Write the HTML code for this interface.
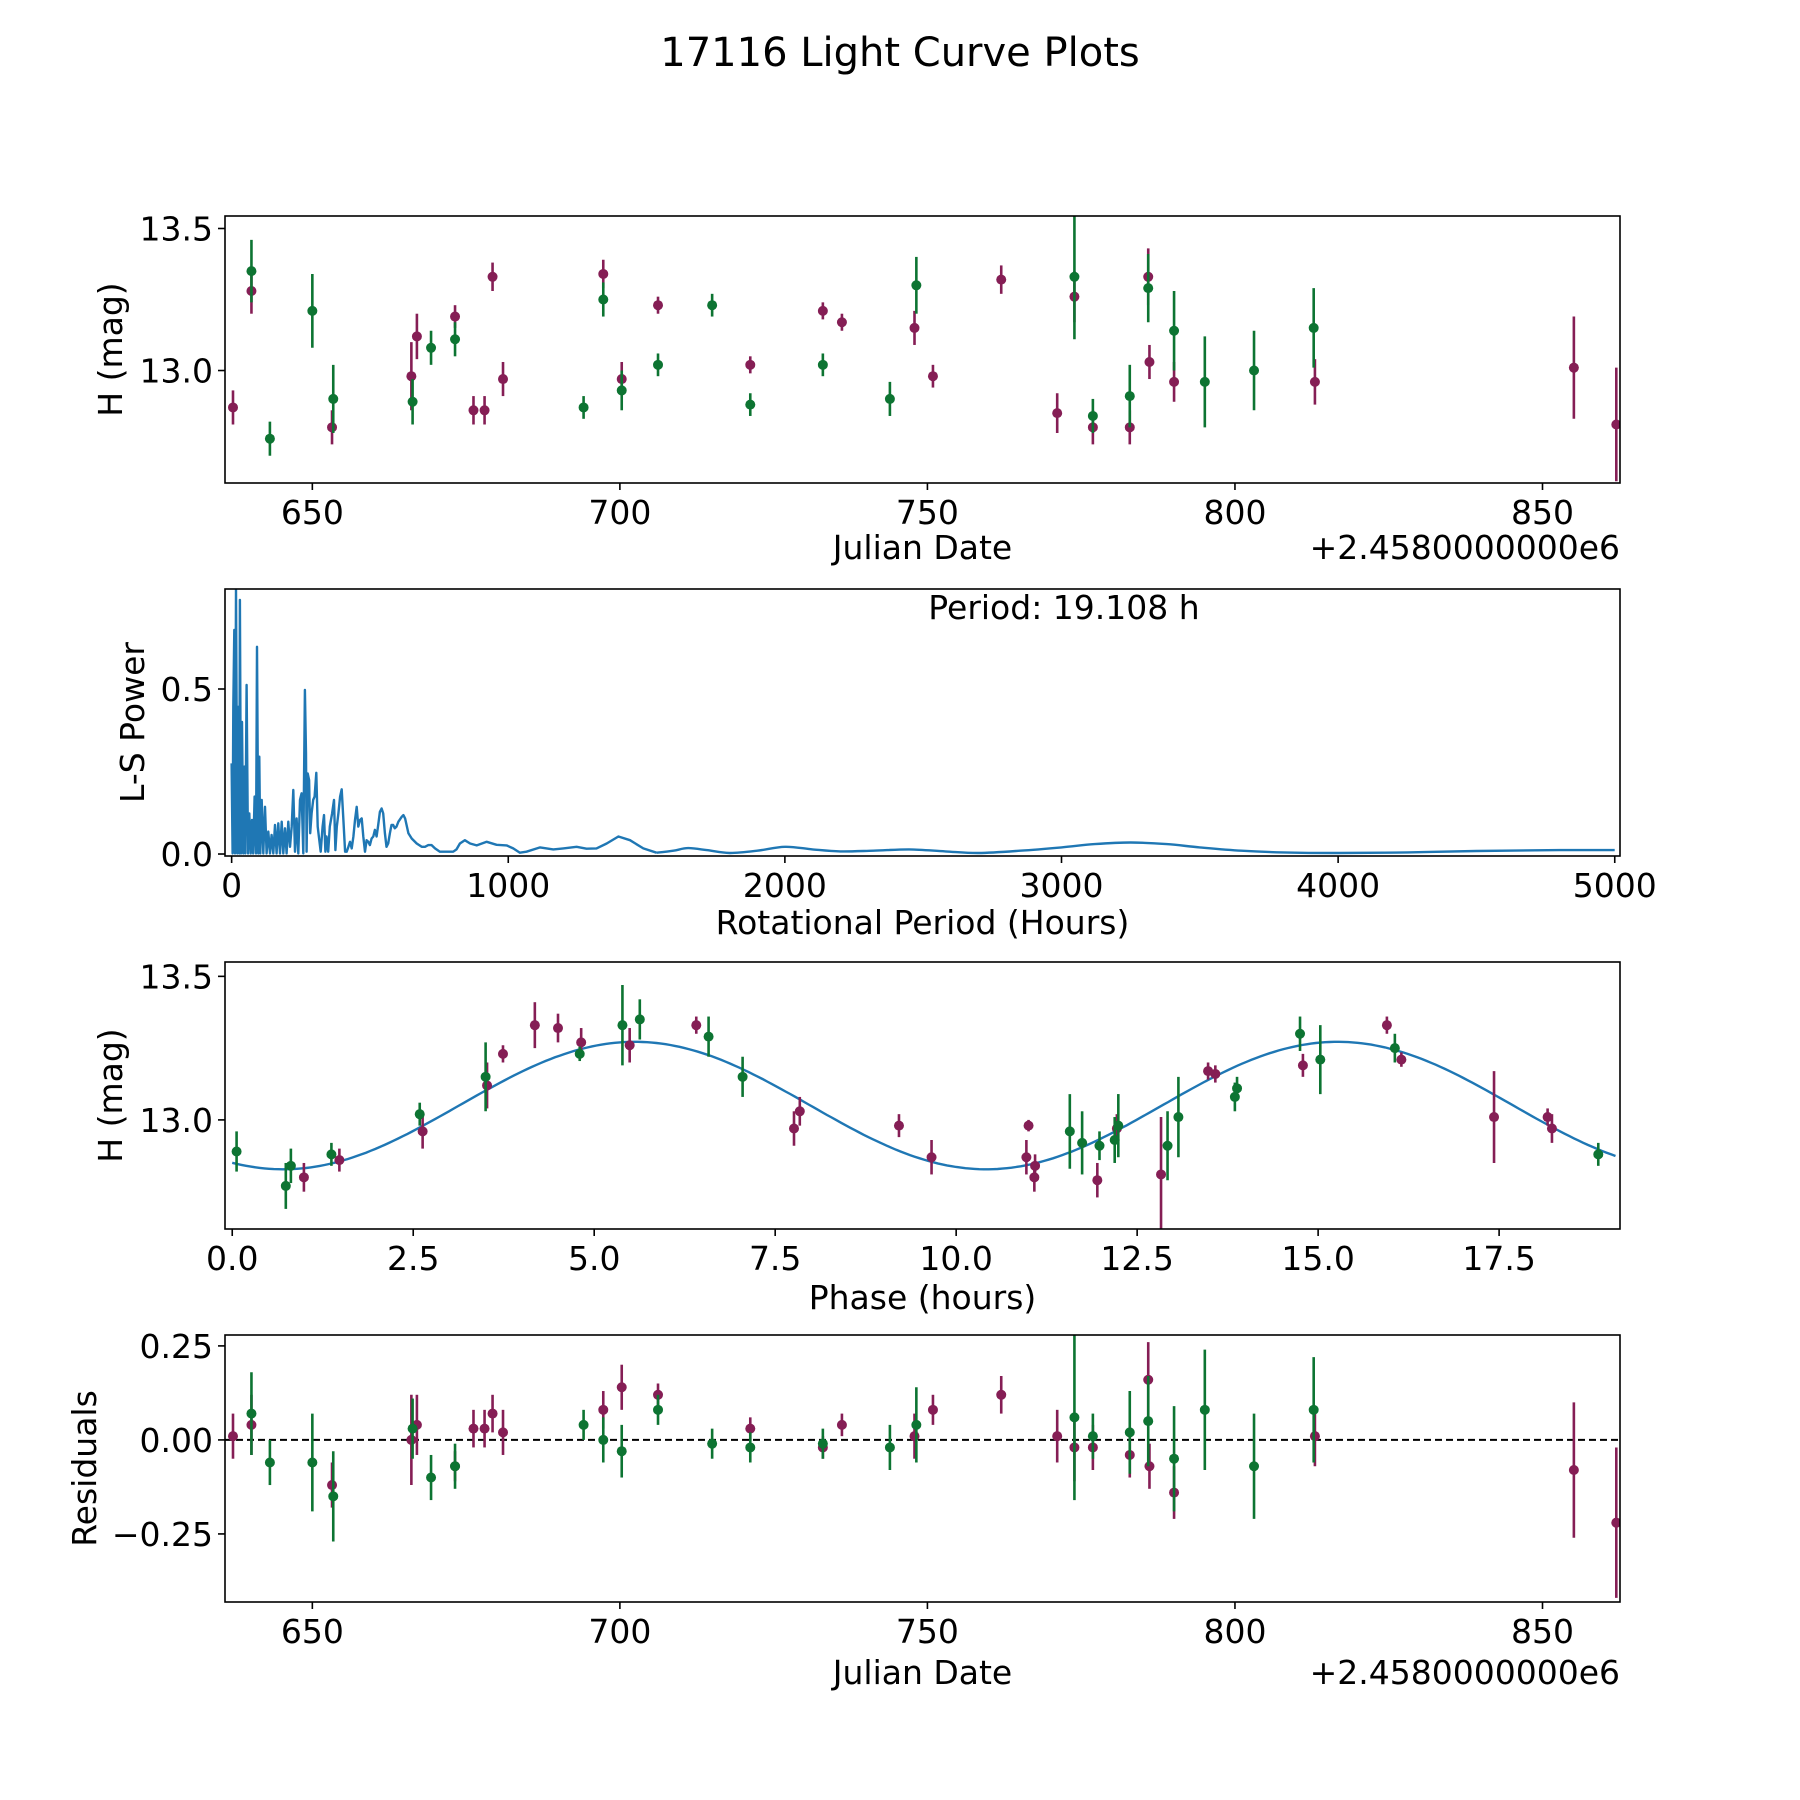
<!DOCTYPE html>
<html><head><meta charset="utf-8">
<style>
html,body{margin:0;padding:0;background:#fff;}
svg{display:block;font-family:"DejaVu Sans","Liberation Sans",sans-serif;}
</style></head>
<body>
<svg id="fig" width="1800" height="1800" viewBox="0 0 1800 1800" xmlns="http://www.w3.org/2000/svg">
<rect width="1800" height="1800" fill="#fff"/>
<text x="900" y="66" font-size="40" text-anchor="middle">17116 Light Curve Plots</text>
</svg>
<script>
// ---------- data ----------
const lcPurpleDate=[637.1,640.1,653.2,666.1,667.0,673.2,676.2,678.0,679.3,681.0,697.3,700.3,706.2,721.2,733.0,736.1,747.9,750.9,762.0,771.1,773.9,776.9,782.9,785.9,786.1,790.1,813.0,855.1,862.0];
const lcPurpleMag=[12.87,13.28,12.80,12.98,13.12,13.19,12.86,12.86,13.33,12.97,13.34,12.97,13.23,13.02,13.21,13.17,13.15,12.98,13.32,12.85,13.26,12.80,12.80,13.33,13.03,12.96,12.96,13.01,12.81];
const lcPurpleErr=[0.06,0.08,0.06,0.12,0.08,0.04,0.05,0.05,0.05,0.06,0.05,0.06,0.03,0.03,0.03,0.03,0.06,0.04,0.05,0.07,0.09,0.06,0.06,0.10,0.06,0.07,0.08,0.18,0.20];
const resPurple=[0.01,0.04,-0.12,0.00,0.04,-0.07,0.03,0.03,0.07,0.02,0.08,0.14,0.12,0.03,-0.02,0.04,0.01,0.08,0.12,0.01,-0.02,-0.02,-0.04,0.16,-0.07,-0.14,0.01,-0.08,-0.22];

const lcGreenDate=[640.1,643.1,650.0,653.4,666.3,669.3,673.2,694.1,697.3,700.3,706.2,715.0,721.2,733.0,743.9,748.2,773.9,776.9,782.9,785.9,790.1,795.1,803.1,812.8];
const lcGreenMag=[13.35,12.76,13.21,12.90,12.89,13.08,13.11,12.87,13.25,12.93,13.02,13.23,12.88,13.02,12.90,13.30,13.33,12.84,12.91,13.29,13.14,12.96,13.00,13.15];
const lcGreenErr=[0.11,0.06,0.13,0.12,0.08,0.06,0.06,0.04,0.06,0.07,0.04,0.04,0.04,0.04,0.06,0.10,0.22,0.06,0.11,0.12,0.14,0.16,0.14,0.14];
const resGreen=[0.07,-0.06,-0.06,-0.15,0.03,-0.10,-0.07,0.04,0.00,-0.03,0.08,-0.01,-0.02,-0.01,-0.02,0.04,0.06,0.01,0.02,0.05,-0.05,0.08,-0.07,0.08];

const lsPeriod=[0,3.6,6,9.6,12,15.7,20.5,24,27.7,30,33.7,37.4,42,46,49.4,54,59,64,69,73.5,78,83,88,91.6,96.4,100,103.6,108.5,114.5,120.5,126.5,132.5,138.6,144.6,150.6,156.7,162.7,168.7,174.7,180.8,186.8,192.8,198.8,204.9,211,217,223,229,235,241,247,253,259,265,269,271,275,280,284,289,295,300,306,311,316,322,329,334,339,343,349,355,363,370,375,380,386,392,398,404,410,416,422,428,434,440,446,452,458,464,470,476,482,488,494,500,506,512,518,524,530,536,542,548,554,560,566,572,578,584,590,596,603,615,621,627,639,651,669,687,699,711,723,735,753,801,813,825,843,862,886,922,958,994,1018,1042,1066,1115,1163,1199,1247,1283,1319,1356,1398,1440,1488,1536];
const lsPower=[0.275,0.002,0.446,0.679,0.002,0.80,0.002,0.446,0.002,0.77,0.002,0.40,0.002,0.265,0.002,0.512,0.002,0.123,0.002,0.103,0.002,0.174,0.002,0.628,0.002,0.295,0.002,0.164,0.002,0.143,0.002,0.068,0.002,0.058,0.002,0.088,0.002,0.093,0.002,0.098,0.002,0.078,0.002,0.098,0.022,0.083,0.194,0.007,0.108,0.002,0.164,0.184,0.002,0.497,0.305,0.007,0.244,0.224,0.063,0.123,0.164,0.174,0.246,0.083,0.047,0.007,0.083,0.118,0.007,0.053,0.007,0.083,0.123,0.164,0.012,0.083,0.123,0.174,0.196,0.103,0.007,0.007,0.022,0.037,0.017,0.053,0.103,0.143,0.083,0.103,0.108,0.053,0.007,0.042,0.037,0.027,0.047,0.053,0.073,0.053,0.088,0.128,0.138,0.123,0.063,0.022,0.032,0.063,0.088,0.088,0.078,0.083,0.098,0.113,0.118,0.108,0.063,0.047,0.032,0.022,0.022,0.027,0.027,0.017,0.007,0.007,0.014,0.032,0.042,0.032,0.026,0.037,0.028,0.026,0.017,0.004,0.007,0.020,0.014,0.017,0.022,0.016,0.017,0.032,0.053,0.042,0.017,0.004];
const lsTailPeriod=[1536,1597,1650,1717,1800,1900,2000,2100,2200,2320,2450,2580,2700,2850,3000,3120,3250,3380,3500,3650,3800,4000,4250,4500,4800,5000];
const lsTailPower=[0.004,0.010,0.018,0.012,0.003,0.010,0.022,0.014,0.008,0.010,0.014,0.008,0.003,0.010,0.020,0.030,0.035,0.030,0.020,0.010,0.005,0.003,0.005,0.009,0.012,0.012];
const periodLabel="Period: 19.108 h";

const phPurplePhase=[0.99,1.48,2.63,3.52,3.74,4.18,4.50,4.82,5.49,6.41,7.76,7.84,9.21,9.66,10.97,11.0,11.08,11.09,11.95,12.22,12.83,13.48,13.58,14.79,15.95,16.15,17.43,18.17,18.23];
const phPurpleMag=[12.80,12.86,12.96,13.12,13.23,13.33,13.32,13.27,13.26,13.33,12.97,13.03,12.98,12.87,12.87,12.98,12.80,12.84,12.79,12.97,12.81,13.17,13.16,13.19,13.33,13.21,13.01,13.01,12.97];
const phPurpleErr=[0.05,0.04,0.06,0.08,0.03,0.08,0.05,0.05,0.06,0.03,0.06,0.05,0.04,0.06,0.06,0.02,0.05,0.04,0.06,0.05,0.20,0.03,0.03,0.04,0.03,0.025,0.16,0.03,0.05];
const phGreenPhase=[0.06,0.74,0.81,1.37,2.59,3.50,4.80,5.39,5.63,6.58,7.05,11.57,11.74,11.98,12.19,12.24,12.92,13.07,13.85,13.88,14.75,15.03,16.06,18.87];
const phGreenMag=[12.89,12.77,12.84,12.88,13.02,13.15,13.23,13.33,13.35,13.29,13.15,12.96,12.92,12.91,12.93,12.98,12.91,13.01,13.08,13.11,13.30,13.21,13.25,12.88];
const phGreenErr=[0.07,0.08,0.06,0.04,0.04,0.12,0.025,0.14,0.07,0.07,0.07,0.13,0.11,0.05,0.08,0.11,0.12,0.14,0.05,0.04,0.06,0.12,0.05,0.04];
const modelMean=13.05, modelAmp=0.222, modelPeriod=9.71, modelPeak=5.56;

const dateTicks=[650,700,750,800,850];
const magTicks=[13.0,13.5];
const lsXTicks=[0,1000,2000,3000,4000,5000];
const lsYTicks=[0.0,0.5];
const phTicks=[0,2.5,5,7.5,10,12.5,15,17.5];
const resTicks=[-0.25,0,0.25];

// ---------- helpers ----------
const NS="http://www.w3.org/2000/svg";
const fig=document.getElementById('fig');
const PURPLE="#851e55", GREEN="#0d7432", BLUE="#1f77b4";
const L=225,R=1620,FS=33;
function mk(tag,attrs,parent){const e=document.createElementNS(NS,tag);for(const k in attrs)e.setAttribute(k,attrs[k]);(parent||fig).appendChild(e);return e;}
function scale(d0,d1,r0,r1){return v=>r0+(v-d0)*(r1-r0)/(d1-d0);}
function fmt(v,dec){let s=v.toFixed(dec);return s.replace('-','\u2212');}

function makeAxes(name,top,bot,xd,yd){
  const g=mk('g',{});
  
  
  return {g,top,bot,x:scale(xd[0],xd[1],L,R),y:scale(yd[0],yd[1],bot,top)};
}
function frame(ax){
  const r=mk('rect',{x:L,y:ax.top,width:R-L,height:ax.bot-ax.top,fill:'none',stroke:'#000','stroke-width':1.6},ax.g);
  
  
}
function xticks(ax,ticks,dec){
  ticks.forEach(t=>{const px=ax.x(t);
    mk('line',{x1:px,x2:px,y1:ax.bot,y2:ax.bot+7,stroke:'#000','stroke-width':1.6},ax.g);
    const tx=mk('text',{x:px,y:ax.bot+41,'font-size':FS,'text-anchor':'middle'},ax.g);
    tx.textContent=fmt(t,dec);
    
    
  });
}
function yticks(ax,ticks,dec){
  ticks.forEach(t=>{const py=ax.y(t);
    mk('line',{x1:L-7,x2:L,y1:py,y2:py,stroke:'#000','stroke-width':1.6},ax.g);
    const tx=mk('text',{x:L-12,y:py+12,'font-size':FS,'text-anchor':'end'},ax.g);
    tx.textContent=fmt(t,dec);
    
    
  });
}
function xlabel(ax,txt,y){
  const t=mk('text',{x:(L+R)/2,y:y,'font-size':FS,'text-anchor':'middle'},ax.g);
  t.textContent=txt;
  
  
}
function ylabel(ax,txt,x){
  const cy=(ax.top+ax.bot)/2;
  const t=mk('text',{x:x,y:cy,'font-size':FS,'text-anchor':'middle',transform:`rotate(-90 ${x} ${cy})`},ax.g);
  t.textContent=txt;
  
  
}
function offsetText(ax,y){
  const t=mk('text',{x:R,y:y,'font-size':FS,'text-anchor':'end'},ax.g);
  t.textContent='+2.4580000000e6';
  
  
}
function errSeries(ax,xs,ys,es,color,name){
  const cp='c'+name;
  const clip=mk('clipPath',{id:cp},ax.g);
  mk('rect',{x:L,y:ax.top,width:R-L,height:ax.bot-ax.top},clip);
  const g=mk('g',{'clip-path':`url(#${cp})`},ax.g);
  
  
  xs.forEach((xv,i)=>{
    const px=ax.x(xv),py=ax.y(ys[i]);
    const bar=mk('line',{x1:px,x2:px,y1:ax.y(ys[i]-es[i]),y2:ax.y(ys[i]+es[i]),stroke:color,'stroke-width':2.6},g);
    
    
    const c=mk('circle',{cx:px,cy:py,r:5,fill:color},g);
    
    
  });
}

// ---------- panel 1: light curve ----------
const a1=makeAxes('light-curve-panel',216,483,[635.8,862.6],[12.604,13.544]);
errSeries(a1,lcPurpleDate,lcPurpleMag,lcPurpleErr,PURPLE,'lc-purple-series');
errSeries(a1,lcGreenDate,lcGreenMag,lcGreenErr,GREEN,'lc-green-series');
frame(a1);xticks(a1,dateTicks,0);yticks(a1,magTicks,1);
xlabel(a1,'Julian Date',559);offsetText(a1,559);ylabel(a1,'H (mag)',122);

// ---------- panel 2: periodogram ----------
const a2=makeAxes('periodogram-panel',589,856,[-24,5019],[-0.006,0.803]);
{
  const cp=mk('clipPath',{id:'cls'},a2.g);mk('rect',{x:L,y:a2.top,width:R-L,height:a2.bot-a2.top},cp);
  const pts=lsPeriod.map((p,i)=>a2.x(p).toFixed(1)+','+a2.y(lsPower[i]).toFixed(1)).join(' ');
  const pl=mk('polyline',{points:pts,fill:'none',stroke:BLUE,'stroke-width':2.4,'stroke-linejoin':'round','clip-path':'url(#cls)'},a2.g);
  
  
  // smooth tail (Catmull-Rom)
  const P=lsTailPeriod.map((p,i)=>[a2.x(p),a2.y(lsTailPower[i])]);
  let d='M'+P[0][0].toFixed(1)+','+P[0][1].toFixed(1);
  for(let i=0;i<P.length-1;i++){
    const p0=P[Math.max(0,i-1)],p1=P[i],p2=P[i+1],p3=P[Math.min(P.length-1,i+2)];
    const c1=[p1[0]+(p2[0]-p0[0])/6,p1[1]+(p2[1]-p0[1])/6],c2=[p2[0]-(p3[0]-p1[0])/6,p2[1]-(p3[1]-p1[1])/6];
    d+=`C${c1[0].toFixed(1)},${c1[1].toFixed(1)} ${c2[0].toFixed(1)},${c2[1].toFixed(1)} ${p2[0].toFixed(1)},${p2[1].toFixed(1)}`;
  }
  const tl=mk('path',{d:d,fill:'none',stroke:BLUE,'stroke-width':2.4,'clip-path':'url(#cls)'},a2.g);
  
  
  const pt=mk('text',{x:1064,y:619,'font-size':FS,'text-anchor':'middle'},a2.g);
  pt.textContent=periodLabel;
  
  
}
frame(a2);xticks(a2,lsXTicks,0);yticks(a2,lsYTicks,1);
xlabel(a2,'Rotational Period (Hours)',934);ylabel(a2,'L-S Power',144);

// ---------- panel 3: phased ----------
const a3=makeAxes('phase-panel',962,1229,[-0.1,19.17],[12.62,13.55]);
{
  const cp=mk('clipPath',{id:'cph'},a3.g);mk('rect',{x:L,y:a3.top,width:R-L,height:a3.bot-a3.top},cp);
  let d='';
  for(let i=0;i<=300;i++){const t=19.108*i/300;const v=modelMean+modelAmp*Math.cos(2*Math.PI*(t-modelPeak)/modelPeriod);d+=(i?'L':'M')+a3.x(t).toFixed(1)+','+a3.y(v).toFixed(1);}
  const p=mk('path',{d:d,fill:'none',stroke:BLUE,'stroke-width':2.4,'clip-path':'url(#cph)'},a3.g);
  
  
}
errSeries(a3,phPurplePhase,phPurpleMag,phPurpleErr,PURPLE,'phase-purple-series');
errSeries(a3,phGreenPhase,phGreenMag,phGreenErr,GREEN,'phase-green-series');
frame(a3);xticks(a3,phTicks,1);yticks(a3,magTicks,1);
xlabel(a3,'Phase (hours)',1309);ylabel(a3,'H (mag)',122);

// ---------- panel 4: residuals ----------
const a4=makeAxes('residuals-panel',1335,1602,[635.8,862.6],[-0.431,0.279]);
{
  const zl=mk('line',{x1:L,x2:R,y1:a4.y(0),y2:a4.y(0),stroke:'#000','stroke-width':2,'stroke-dasharray':'7,4'},a4.g);
  
  
}
errSeries(a4,lcPurpleDate,resPurple,lcPurpleErr,PURPLE,'res-purple-series');
errSeries(a4,lcGreenDate,resGreen,lcGreenErr,GREEN,'res-green-series');
frame(a4);xticks(a4,dateTicks,0);yticks(a4,resTicks,2);
xlabel(a4,'Julian Date',1684);offsetText(a4,1684);ylabel(a4,'Residuals',96);
</script>
</body></html>
